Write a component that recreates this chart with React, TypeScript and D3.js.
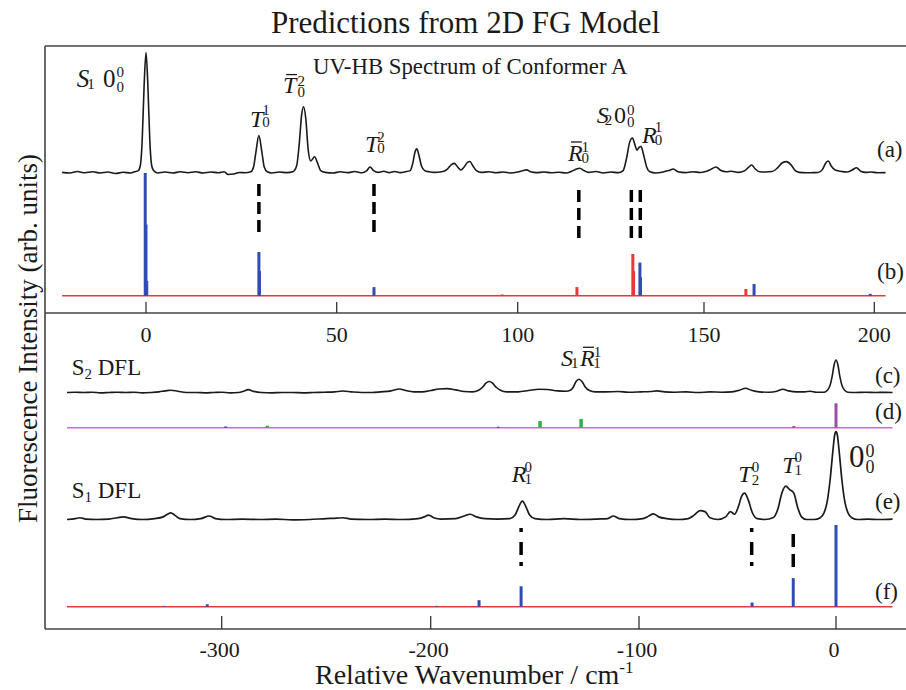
import React from "react";
import * as d3 from "d3";

// ---------- data (wavenumber in cm-1, relative intensity) ----------
const TOP_TICKS = [0, 50, 100, 150, 200];
const TOP_TICK_LABELS = ["0", "50", "100", "150", "200"];
const BOTTOM_TICKS = [-300, -200, -100, 0];
const BOTTOM_TICK_LABELS = ["-300", "-200", "-100", "0"];

// (a) UV-HB spectrum
const A_TRACE: [number, number][] = [
  [-22,0.005],[-20,0.0],[-18,0.012],[-16,0.002],[-14,0.01],[-12,0.0],[-10,0.008],[-8,-0.004],[-6,0.006],[-4,0.0],[-3,0.01],
  [-2,0.02],[-1.5,0.06],[-1.0,0.27],[-0.5,0.72],[0,1.0],[0.5,0.72],[1.0,0.27],[1.5,0.06],[2,0.02],[3,0.0],
  [5,0.008],[7,0.0],[9,0.01],[11,0.002],[13,0.01],[15,0.0],[17,0.008],[19,0.002],[20.5,0.01],[21.5,-0.012],[23,-0.008],[24.5,0.004],[26,0.002],[27.5,0.01],
  [28.2,0.05],[28.8,0.17],[29.6,0.31],[30.4,0.17],[31.0,0.05],[31.8,0.01],[33,0.0],[35,0.008],[37,0.003],[38.5,0.01],
  [39.5,0.06],[40.2,0.25],[40.8,0.48],[41.3,0.55],[41.9,0.45],[42.5,0.2],[43.2,0.1],[44.2,0.135],[45.0,0.08],[45.8,0.02],[47,0.005],
  [49,0.0],[51,0.01],[53,0.003],[55,0.012],[57,0.002],[58.3,0.02],[59.2,0.05],[60.2,0.02],[61.5,0.005],[63,0.015],[64.5,0.003],[66,0.012],[67.5,0.003],[69,0.01],[70.3,0.02],
  [71.0,0.08],[71.6,0.17],[72.1,0.2],[72.7,0.15],[73.4,0.06],[74.3,0.02],[75.5,0.01],[77,0.005],[79,0.01],[80.5,0.03],[81.7,0.07],[82.5,0.08],[83.4,0.05],[84.3,0.025],
  [85.2,0.05],[86.2,0.09],[86.8,0.095],[87.6,0.06],[88.6,0.02],[90,0.005],[92,0.01],[94,0.002],[96,0.008],[98,0.0],[100,0.008],[101.5,0.02],[102.4,0.026],[103.5,0.01],
  [105,0.003],[107,0.008],[109,0.002],[111,0.006],[113,0.0],[114.5,0.015],[115.5,0.03],[116.7,0.04],[117.8,0.02],[119,0.005],[121,0.012],[123,0.0],[125,0.008],[127,0.003],[128.3,0.02],
  [129.2,0.12],[130.0,0.25],[130.8,0.29],[131.5,0.23],[132.0,0.19],[132.5,0.21],[133.1,0.22],[133.8,0.15],[134.6,0.05],[135.5,0.01],[137,0.0],[139,0.008],[140.5,0.02],[141.8,0.033],[143,0.01],[145,0.003],
  [147,0.01],[149,0.004],[150.5,0.012],[152,0.03],[153.5,0.05],[155,0.02],[156.5,0.01],[158,0.015],[160,0.005],[162,0.02],[163.2,0.05],[164,0.066],[165,0.035],[166.3,0.01],[168,0.008],[170,0.012],
  [171.5,0.04],[173,0.085],[174.2,0.094],[175.5,0.07],[176.8,0.02],[178,0.005],[180,0.002],[182,0.003],[183.5,0.004],[184.8,0.03],[185.8,0.085],[186.5,0.099],[187.3,0.06],[188.5,0.025],[190,0.015],[192,0.008],
  [193.5,0.025],[194.8,0.044],[196,0.015],[197.5,0.005],[199,0.008],[201,0.002],[203.3,0.003],
];
// (b) predicted sticks
const B_RED: [number, number][] = [[95.7,0.01],[115.9,0.07],[130.9,0.34],[131.1,0.2],[162.3,0.055]];
const B_BLUE: [number, number][] = [[-0.2,1.0],[0,0.58],[0.2,0.12],[29.6,0.356],[29.75,0.2],[60.3,0.07],[132.8,0.27],[132.95,0.15],[164.7,0.095],[198.8,0.015]];
const TOP_DASHES_HIGH = [29.6, 60.3];
const TOP_DASHES_LOW = [116.4, 130.5, 132.9];
const TOP_SPAN: [number, number] = [-22, 203.3];

// (c) S2 DFL
const C_TRACE: [number, number][] = [
  [-374,0.0],[-370,0.01],[-366,0.0],[-362,0.01],[-358,-0.01],[-354,0.0],[-350,0.01],[-346,0.0],[-342,0.01],[-338,-0.01],[-334,0.0],[-330,0.02],[-327,0.05],[-324.3,0.07],[-321,0.04],[-317,0.0],
  [-312,0.0],[-308,-0.01],[-304,0.0],[-300,0.01],[-296,-0.01],[-292,0.0],[-289.5,0.04],[-287.3,0.09],[-285,0.04],[-281,0.0],[-276,-0.01],[-271,0.0],[-266,0.0],[-261,-0.01],[-256,0.0],
  [-251,0.01],[-246,0.02],[-242,0.045],[-238,0.02],[-233,0.0],[-228,0.0],[-224,0.02],[-219,0.05],[-215,0.11],[-212,0.06],[-208,0.02],[-204,0.02],[-200,0.06],[-196,0.11],[-192,0.12],[-188,0.08],[-184,0.03],[-180,0.02],
  [-177,0.07],[-175,0.17],[-173.5,0.29],[-171.9,0.34],[-170.3,0.29],[-168.7,0.17],[-166.5,0.07],[-163.5,0.02],[-158,0.02],[-153,0.06],[-148,0.1],[-144,0.09],[-139,0.05],[-135,0.04],
  [-133,0.07],[-131.5,0.17],[-130.3,0.33],[-128.8,0.41],[-127.3,0.33],[-125.8,0.17],[-124,0.07],[-121,0.02],[-116,0.02],[-110,0.03],[-105,0.01],[-99,0.02],[-94,0.03],[-91,0.05],[-87,0.02],[-82,0.01],[-76,0.02],[-70,0.0],[-64,0.02],[-58,0.01],[-53,0.02],
  [-49,0.07],[-46,0.13],[-43,0.07],[-39,0.02],[-34,0.01],[-30,0.04],[-27,0.1],[-24,0.05],[-20,0.02],[-16,0.02],[-13,0.04],[-10,0.01],
  [-6,0.01],[-4.5,0.06],[-3,0.22],[-2,0.48],[-1,0.84],[0,1.0],[1,0.84],[2,0.48],[3,0.22],[4.5,0.06],[6,0.01],[10,0.0],[15,0.01],[20,0.0],[25,0.005],[28.7,0.0],
];
// (d) predicted sticks
const D_PURPLE: [number, number][] = [[-21.4,0.07],[0,1.0]];
const D_GREEN: [number, number][] = [[-278.2,0.08],[-147.5,0.27],[-127.8,0.36]];
const D_BLUE: [number, number][] = [[-298.1,0.05],[-167.6,0.04]];

// (e) S1 DFL
const E_TRACE: [number, number][] = [
  [-374,0.0],[-370,0.01],[-367.8,0.02],[-365,0.005],[-360,0.0],[-354,0.005],[-350,0.02],[-347,0.03],[-343,0.01],[-338,0.0],[-332,0.01],[-328,0.03],[-326,0.06],[-324.3,0.075],[-322.5,0.05],[-320,0.01],
  [-315,0.0],[-310,0.01],[-306,0.04],[-303,0.01],[-298,0.0],[-290,0.005],[-282,0.0],[-274,0.005],[-266,-0.005],[-258,0.0],[-250,0.01],[-245,0.015],[-242,0.02],[-238,0.005],[-230,0.0],[-222,0.005],[-214,0.0],
  [-206,0.01],[-203,0.03],[-201,0.05],[-198.5,0.02],[-195,0.005],[-188,0.01],[-184,0.04],[-181,0.06],[-178,0.03],[-174,0.01],[-168,0.005],[-162,0.01],
  [-159.5,0.05],[-158,0.13],[-156,0.21],[-154,0.13],[-152.5,0.05],[-150,0.01],[-144,0.0],[-136,0.01],[-128,0.0],[-120,0.005],[-115,0.01],[-112.3,0.04],[-109.5,0.01],[-104,0.0],
  [-98,0.01],[-95,0.04],[-92.7,0.065],[-90,0.03],[-86,0.01],[-80,0.0],[-75,0.01],[-72,0.05],[-69,0.1],[-66.5,0.09],[-64,0.02],[-60,0.0],[-56,0.03],[-53.6,0.09],[-51.5,0.06],
  [-49.5,0.15],[-48,0.26],[-46.4,0.30],[-44.5,0.22],[-42.5,0.08],[-40,0.01],[-36,0.0],[-32,0.02],[-29.5,0.12],[-27.5,0.3],[-25.5,0.38],[-23.5,0.34],[-21.4,0.30],[-19.5,0.14],[-17.5,0.03],[-15,0.0],
  [-11,0.0],[-8,0.02],[-6,0.08],[-4.5,0.2],[-3,0.45],[-1.5,0.8],[-0.7,0.96],[0,1.0],[0.7,0.96],[1.5,0.8],[3,0.45],[4.5,0.2],[6,0.08],[8,0.02],[11,0.0],[16,0.005],[22,0.0],[28.7,0.005],
];
// (f) predicted sticks
const F_BLUE: [number, number][] = [[-327.5,0.01],[-306.9,0.03],[-197.1,0.01],[-176.8,0.08],[-156.6,0.25],[-42.6,0.05],[-21.7,0.35],[0,1.0]];
const BOTTOM_DASHES = [-156.6, -42.8, -21.7];
const BOTTOM_SPAN: [number, number] = [-374, 28.7];

// ---------- layout ----------
const FONT = "'Liberation Serif', 'Times New Roman', serif";
const BOX = { left: 45, top: 46, mid: 313, bottom: 629, right: 910 };
const INK = "#1a1a1a";
const RED = "#e8383d";
const BLUE = "#2f4db3";
const GREEN = "#2fb04a";
const PURPLE = "#9c4ea2";
const MAGENTA = "#d468c4";

const xTop = d3.scaleLinear().domain(TOP_TICKS).range([146, 336.7, 517.7, 704, 874.3]);
const xBot = d3.scaleLinear().domain(BOTTOM_TICKS).range([221.7, 430.7, 639, 836]);

const yA = d3.scaleLinear().domain([0, 1]).range([173, 52.5]);
const yB = d3.scaleLinear().domain([0, 1]).range([295.7, 173]);
const yC = d3.scaleLinear().domain([0, 1]).range([392.5, 360]);
const yD = d3.scaleLinear().domain([0, 1]).range([427.7, 403.3]);
const yE = d3.scaleLinear().domain([0, 1]).range([519.5, 431.7]);
const yF = d3.scaleLinear().domain([0, 1]).range([606.7, 525]);

function tracePath(data: [number, number][], xs: any, ys: any) {
  return d3
    .line<[number, number]>()
    .x((d) => xs(d[0]))
    .y((d) => ys(d[1]))
    .curve(d3.curveMonotoneX)(data) as string;
}

function Sticks({ data, xs, ys, color, w = 3 }: any) {
  return (
    <g fill={color}>
      {data.map((d: [number, number], i: number) => (
        <rect key={i} x={xs(d[0]) - w / 2} y={ys(d[1])} width={w} height={Math.max(0.8, ys(0) - ys(d[1]))} />
      ))}
    </g>
  );
}

function Baseline({ xs, ys, span, color }: any) {
  return <line x1={xs(span[0])} x2={xs(span[1])} y1={ys(0)} y2={ys(0)} stroke={color} strokeWidth={1.4} />;
}

// symbol with optional overline, superscript and subscript stacked
function Sym({ x, y, base, italic = true, sup, sub, fs = 24, sfs = 15, over = false, supDy = -9, subDy = 3, gap = 0 }: any) {
  const w = base.length * fs * 0.58;
  return (
    <g>
      <text x={x} y={y} fontSize={fs} fontFamily={FONT} fill={INK}>
        <tspan fontStyle={italic ? "italic" : "normal"}>{base}</tspan>
        {sup !== undefined && (
          <tspan fontSize={sfs} dx={gap} dy={supDy}>{sup}</tspan>
        )}
        {sub !== undefined && (
          <tspan fontSize={sfs} dx={sup !== undefined ? -sfs * 0.5 * sup.length : gap} dy={sup !== undefined ? subDy - supDy : subDy}>
            {sub}
          </tspan>
        )}
      </text>
      {over && <line x1={x + 3} x2={x + w} y1={y - fs * 0.78} y2={y - fs * 0.78} stroke={INK} strokeWidth={1.3} />}
    </g>
  );
}

export default function App() {
  const topDash = (wn: number, y1: number, y2: number, i: string) => (
    <line key={i} x1={xTop(wn)} x2={xTop(wn)} y1={y1} y2={y2} stroke="#000" strokeWidth={3.5} strokeDasharray="12,6" />
  );
  return (
    <div style={{ position: "fixed", left: 0, top: 0 }}>
      <svg width={906} height={690} style={{ display: "block", background: "#fff" }}>
        {/* title */}
        <text x={465.5} y={32.7} textAnchor="middle" fontSize={31} fontFamily={FONT} fill={INK}>
          Predictions from 2D FG Model
        </text>

        {/* frame */}
        <g stroke="#444" strokeWidth={1.6} fill="none">
          <line x1={BOX.left} x2={BOX.right} y1={BOX.top} y2={BOX.top} />
          <line x1={BOX.left} x2={BOX.right} y1={BOX.mid} y2={BOX.mid} />
          <line x1={BOX.left} x2={BOX.right} y1={BOX.bottom} y2={BOX.bottom} />
          <line x1={BOX.left} x2={BOX.left} y1={BOX.top} y2={BOX.bottom} />
        </g>

        {/* axis ticks and labels */}
        <g stroke="#333" strokeWidth={1.3}>
          {TOP_TICKS.map((t) => (
            <line key={t} x1={xTop(t)} x2={xTop(t)} y1={BOX.mid} y2={BOX.mid - 11} />
          ))}
          {BOTTOM_TICKS.map((t) => (
            <line key={t} x1={xBot(t)} x2={xBot(t)} y1={BOX.bottom} y2={BOX.bottom - 13} />
          ))}
        </g>
        <g fontSize={22} fontFamily={FONT} fill={INK} textAnchor="middle">
          {TOP_TICKS.map((t, i) => (
            <text key={t} x={xTop(t)} y={342}>{TOP_TICK_LABELS[i]}</text>
          ))}
          {BOTTOM_TICKS.map((t, i) => (
            <text key={t} x={xBot(t) - 2} y={657}>{BOTTOM_TICK_LABELS[i]}</text>
          ))}
        </g>

        {/* axis titles */}
        <text x={315} y={684} fontSize={28} fontFamily={FONT} fill={INK}>
          Relative Wavenumber / cm<tspan fontSize={17} dy={-11}>-1</tspan>
        </text>
        <text transform="translate(37,338.5) rotate(-90)" textAnchor="middle" fontSize={27} fontFamily={FONT} fill={INK}>
          Fluorescence Intensity (arb. units)
        </text>

        {/* ---------- top panel ---------- */}
        <text x={313} y={73.5} fontSize={22.8} fontFamily={FONT} fill={INK}>UV-HB Spectrum of Conformer A</text>
        <path d={tracePath(A_TRACE, xTop, yA)} fill="none" stroke={INK} strokeWidth={1.6} strokeLinejoin="round" />
        <Baseline xs={xTop} ys={yB} span={TOP_SPAN} color={RED} />
        <Sticks data={B_RED} xs={xTop} ys={yB} color={RED} />
        <Sticks data={B_BLUE} xs={xTop} ys={yB} color={BLUE} />
        {TOP_DASHES_HIGH.map((wn, i) => topDash(wn, 184, 238, "h" + i))}
        {TOP_DASHES_LOW.map((wn, i) => topDash(wn, 190, 243, "l" + i))}

        {/* top labels */}
        <Sym x={xTop(0) - 69.3} y={87} base="S" sub="1" fs={25} sfs={15} subDy={2} gap={-2} />
        <Sym x={xTop(0) - 43} y={86.7} base="0" italic={false} sup="0" sub="0" fs={25} sfs={15} supDy={-9.5} subDy={5.5} gap={1} />
        <Sym x={xTop(29.6) - 9} y={126.7} base="T" sup="1" sub="0" supDy={-12} subDy={0.5} gap={-1} />
        <Sym x={xTop(41.3) - 20.4} y={93.3} base="T" sup="2" sub="0" over supDy={-7} subDy={3.5} gap={1} />
        <Sym x={xTop(59.2) - 5} y={151.7} base="T" sup="2" sub="0" supDy={-10} subDy={1.5} gap={-1} />
        <Sym x={xTop(116.7) - 12} y={160.7} base="R" sup="1" sub="0" over supDy={-8.5} subDy={2.5} gap={-1} />
        <Sym x={xTop(130.8) - 35.6} y={122.7} base="S" sub="2" fs={24} subDy={2} gap={-4} />
        <Sym x={xTop(130.8) - 18.5} y={122.7} base="0" italic={false} sup="0" sub="0" fs={24} supDy={-8} subDy={4} gap={1} />
        <Sym x={xTop(133.1) + 1} y={142.7} base="R" sup="1" sub="0" supDy={-11} subDy={2.5} gap={-2} />
        <text x={877} y={157} fontSize={23} fontFamily={FONT} fill={INK}>(a)</text>
        <text x={877} y={279} fontSize={23} fontFamily={FONT} fill={INK}>(b)</text>

        {/* ---------- bottom panel ---------- */}
        <text x={71.7} y={375} fontSize={23} fontFamily={FONT} fill={INK}>
          S<tspan fontSize={15} dy={4}>2</tspan><tspan dy={-4}> DFL</tspan>
        </text>
        <text x={71.7} y={498.3} fontSize={23} fontFamily={FONT} fill={INK}>
          S<tspan fontSize={15} dy={4}>1</tspan><tspan dy={-4}> DFL</tspan>
        </text>
        <path d={tracePath(C_TRACE, xBot, yC)} fill="none" stroke={INK} strokeWidth={1.6} strokeLinejoin="round" />
        <Baseline xs={xBot} ys={yD} span={BOTTOM_SPAN} color={MAGENTA} />
        <Sticks data={D_BLUE} xs={xBot} ys={yD} color={BLUE} />
        <Sticks data={D_GREEN} xs={xBot} ys={yD} color={GREEN} w={3.5} />
        <Sticks data={D_PURPLE} xs={xBot} ys={yD} color={PURPLE} />
        <path d={tracePath(E_TRACE, xBot, yE)} fill="none" stroke={INK} strokeWidth={1.7} strokeLinejoin="round" />
        <Baseline xs={xBot} ys={yF} span={BOTTOM_SPAN} color={RED} />
        <Sticks data={F_BLUE} xs={xBot} ys={yF} color={BLUE} />
        {BOTTOM_DASHES.map((wn, i) => (
          <line key={i} x1={xBot(wn)} x2={xBot(wn)} y1={i === 2 ? 534 : 528} y2={i === 2 ? 568 : 572} stroke="#000" strokeWidth={3.5} strokeDasharray={i === 2 ? "13,7" : "4,10,13,7"} />
        ))}

        {/* bottom labels */}
        <Sym x={xBot(-128.8) - 18} y={366} base="S" sub="1" fs={24} subDy={2} gap={-2} />
        <Sym x={xBot(-128.8) + 1} y={366} base="R" sup="1" sub="1" over supDy={-9} subDy={2} gap={-1} />
        <Sym x={xBot(-156) - 10.6} y={481.7} base="R" sup="0" sub="1" supDy={-10} subDy={2} gap={-2} />
        <Sym x={xBot(-46.4) - 6.3} y={481.7} base="T" sup="0" sub="2" supDy={-10} subDy={3} gap={0} />
        <Sym x={xBot(-25.1) - 4.3} y={473} base="T" sup="0" sub="1" supDy={-11} subDy={2} gap={-1} />
        <Sym x={xBot(0) + 13} y={466.7} base="0" italic={false} sup="0" sub="0" fs={31} sfs={18} supDy={-10} subDy={6} gap={1} />
        <text x={875} y={382.5} fontSize={23} fontFamily={FONT} fill={INK}>(c)</text>
        <text x={875} y={419} fontSize={23} fontFamily={FONT} fill={INK}>(d)</text>
        <text x={875} y={509} fontSize={23} fontFamily={FONT} fill={INK}>(e)</text>
        <text x={875} y={599} fontSize={23} fontFamily={FONT} fill={INK}>(f)</text>
      </svg>
    </div>
  );
}
